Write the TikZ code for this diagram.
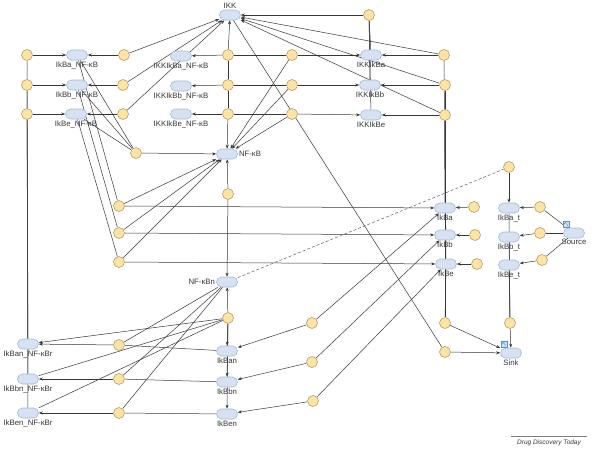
\documentclass[tikz,border=0pt]{standalone}
\usepackage{fontspec}
\setmainfont{Liberation Sans}
\usetikzlibrary{arrows.meta,backgrounds}
\definecolor{spfill}{RGB}{214,226,243}
\definecolor{spdraw}{RGB}{165,185,212}
\definecolor{rxfill}{RGB}{253,228,165}
\definecolor{rxdraw}{RGB}{185,160,100}
\definecolor{ln}{RGB}{55,55,55}
\definecolor{txt}{RGB}{55,55,55}
\definecolor{icon}{RGB}{90,140,200}
\begin{document}
\begin{tikzpicture}[x=1pt,y=-1pt,
  sp/.style={draw=spdraw,fill=spfill,rounded corners=5pt,minimum width=21pt,minimum height=10pt,inner sep=0pt,line width=0.6pt},
  rx/.style={circle,draw=rxdraw,fill=rxfill,minimum size=11pt,inner sep=0pt,line width=0.6pt},
  lbl/.style={font=\fontsize{7.8}{8}\selectfont,text=txt,inner sep=0.5pt},
  every label/.style={lbl},
  label distance=0.5pt,
  ed/.style={draw=ln,line width=0.5pt},
  ar/.style={ed,-{Stealth[length=4pt,width=3pt]}},
  dsh/.style={draw=ln!80,line width=0.5pt,dash pattern=on 3pt off 2pt},
  iconbox/.style={draw=icon,fill=icon!25,minimum size=6pt,inner sep=0pt,line width=0.4pt}
]
\useasboundingbox (0,0) rectangle (595,448);

% ---------------- species ----------------
\node[sp,label={above:IKK}] (IKK) at (230,15) {};
\node[sp,label={below:IkBa\_NF-κB}] (IkBaNF) at (77,55) {};
\node[sp,label={below:IkBb\_NF-κB}] (IkBbNF) at (77,85) {};
\node[sp,label={below:IkBe\_NF-κB}] (IkBeNF) at (76,114) {};
\node[sp,label={below:IKKIkBa\_NF-κB}] (IKKIkBaNF) at (181,56) {};
\node[sp,label={below:IKKIkBb\_NF-κB}] (IKKIkBbNF) at (181,86) {};
\node[sp,label={below:IKKIkBe\_NF-κB}] (IKKIkBeNF) at (181,114) {};
\node[sp,label={right:NF-κB}] (NFkB) at (227,154) {};
\node[sp,label={below:IKKIkBa}] (IKKIkBa) at (371,55) {};
\node[sp,label={below:IKKIkBb}] (IKKIkBb) at (370,85) {};
\node[sp,label={below:IKKIkBe}] (IKKIkBe) at (371,115) {};
\node[sp,label={below:IkBa}] (IkBa) at (445,208) {};
\node[sp,label={below:IkBb}] (IkBb) at (445,235) {};
\node[sp,label={below:IkBe}] (IkBe) at (446,264) {};
\node[sp,label={below:IkBa\_t}] (IkBat) at (509,208) {};
\node[sp,label={below:IkBb\_t}] (IkBbt) at (509,237) {};
\node[sp,label={below:IkBe\_t}] (IkBet) at (509,265) {};
\node[sp,label={below:Source}] (Source) at (574,233) {};
\node[sp,label={left:NF-κBn}] (NFkBn) at (227,282) {};
\node[sp,label={below:IkBan}] (IkBan) at (227,351) {};
\node[sp,label={below:IkBbn}] (IkBbn) at (227,382) {};
\node[sp,label={below:IkBen}] (IkBen) at (227,414) {};
\node[sp,label={below:IkBan\_NF-κBr}] (IkBanNFr) at (28,344) {};
\node[sp,label={below:IkBbn\_NF-κBr}] (IkBbnNFr) at (28,379) {};
\node[sp,label={below:IkBen\_NF-κBr}] (IkBenNFr) at (28,413) {};
\node[sp,label={below:Sink}] (Sink) at (511,353) {};

% icons
\node[iconbox] (srcicon) at (566,224) {};
\draw[icon,line width=0.5pt] ([xshift=-1.8pt,yshift=0.2pt]srcicon.center) -- ([xshift=-0.5pt,yshift=1.6pt]srcicon.center) -- ([xshift=1.8pt,yshift=-1.8pt]srcicon.center);
\node[iconbox] (sinkicon) at (504,344) {};
\draw[icon,line width=0.5pt] ([xshift=-1.8pt,yshift=0.2pt]sinkicon.center) -- ([xshift=-0.5pt,yshift=1.6pt]sinkicon.center) -- ([xshift=1.8pt,yshift=-1.8pt]sinkicon.center);

% ---------------- reactions ----------------
\node[rx] (r1a) at (27,55) {};
\node[rx] (r1b) at (27,85) {};
\node[rx] (r1e) at (27,114) {};
\node[rx] (r2a) at (124,55) {};
\node[rx] (r2b) at (123,85) {};
\node[rx] (r2e) at (123,114) {};
\node[rx] (r3a) at (228,55) {};
\node[rx] (r3b) at (228,85) {};
\node[rx] (r3e) at (228,114) {};
\node[rx] (r4a) at (292,55) {};
\node[rx] (r4b) at (292,85) {};
\node[rx] (r4e) at (292,114) {};
\node[rx] (r5a) at (444,55) {};
\node[rx] (r5b) at (445,85) {};
\node[rx] (r5e) at (445,115) {};
\node[rx] (rtop) at (369,15) {};
\node[rx] (rdeg) at (136,153) {};
\node[rx] (rimp) at (228,194) {};
\node[rx] (rassa) at (119,206) {};
\node[rx] (rassb) at (119,233) {};
\node[rx] (rasse) at (119,262) {};
\node[rx] (rsyna) at (474,207) {};
\node[rx] (rsynb) at (475,235) {};
\node[rx] (rsyne) at (477,264) {};
\node[rx] (rtxa) at (540,207) {};
\node[rx] (rtxb) at (540,233) {};
\node[rx] (rtxe) at (542,260) {};
\node[rx] (rind) at (509,167) {};
\node[rx] (rnd) at (228,318) {};
\node[rx] (rnassa) at (119,345) {};
\node[rx] (rnassb) at (119,379) {};
\node[rx] (rnasse) at (119,413) {};
\node[rx] (rtra) at (312,323) {};
\node[rx] (rtrb) at (312,362) {};
\node[rx] (rtre) at (313,401) {};
\node[rx] (rdega) at (445,323) {};
\node[rx] (rdegIKK) at (445,352) {};
\node[rx] (rdegt) at (510,323) {};

% caption
\node[font=\fontsize{6.5}{7}\selectfont\itshape,text=txt,inner sep=1pt] (ddt) at (549,443) {Drug Discovery Today};
\draw[gray,line width=0.5pt] (511,436) -- (587,436);

% ---------------- connectors ----------------
\begin{scope}[on background layer]
\fill[white] (0,0) rectangle (595,448);
\foreach \X in {a,b,e}{
  \draw[ed] (IkB\X nNFr) -- (r1\X);
  \draw[ar] (r1\X) -- (IkB\X NF);
  \draw[ar] (r2\X) -- (IkB\X NF);
  \draw[ar] (r2\X) -- (IKK);
  \draw[ar] (r3\X) -- (IKKIkB\X NF);
  \draw[ed] (r3\X) -- (r4\X);
  \draw[ar] (r4\X) -- (IKKIkB\X);
  \draw[ar] (r4\X) -- (NFkB);
  \draw[ar] (r5\X) -- (IKKIkB\X);
  \draw[ar] (r5\X) -- (IKK);
  \draw[ed] (r5\X) -- (IkB\X);
  \draw[ed] (rtop) -- (IKKIkB\X);
  \draw[ed] (IkB\X NF) -- (rdeg);
  \draw[ed] (IkB\X NF) -- (rass\X);
  \draw[ar] (rass\X) -- (IkB\X);
  \draw[ar] (rass\X) -- (NFkB);
  \draw[ar] (rsyn\X) -- (IkB\X);
  \draw[ed] (Source) -- (rtx\X);
  \draw[ar] (rtx\X) -- (IkB\X t);
  \draw[ed] (IkB\X t) -- (rdegt);
  \draw[ed] (NFkBn) -- (rnass\X);
  \draw[ed] (IkB\X n) -- (rnass\X);
  \draw[ar] (rnass\X) -- (IkB\X nNFr);
  \draw[ar] (rnd) -- (IkB\X n);
  \draw[ar] (rtr\X) -- (IkB\X n);
  \draw[ar] (rtr\X) -- (IkB\X);
  \draw[ed] (IkB\X) -- (rdega);
}
\draw[ar] (rnd) -- (IkBanNFr);
\draw[ed] (rnd) -- (IkBbnNFr);
\draw[ed] (rnd) -- (IkBenNFr);
\draw[ar] (rnd) -- (NFkBn);
\draw[ar] (r3a) -- (IKK);
\draw[ed] (r3a) -- (r3b);
\draw[ed] (r3b) -- (r3e);
\draw[ar] (r3e) -- (NFkB);
\draw[ar] (rtop) -- (IKK);
\draw[ar] (rdeg) -- (NFkB);
\draw[ar] (rimp) -- (NFkB);
\draw[ar] (rimp) -- (NFkBn);
\draw[ar] (rind) -- (IkBat);
\draw[dsh] (NFkBn) -- (rind);
\draw[ar] (rdegt) -- (Sink);
\draw[ar] (rdega) -- (Sink);
\draw[ed] (IKK) -- (rdegIKK);
\draw[ar] (rdegIKK) -- (Sink);
\end{scope}
\end{tikzpicture}
\end{document}
